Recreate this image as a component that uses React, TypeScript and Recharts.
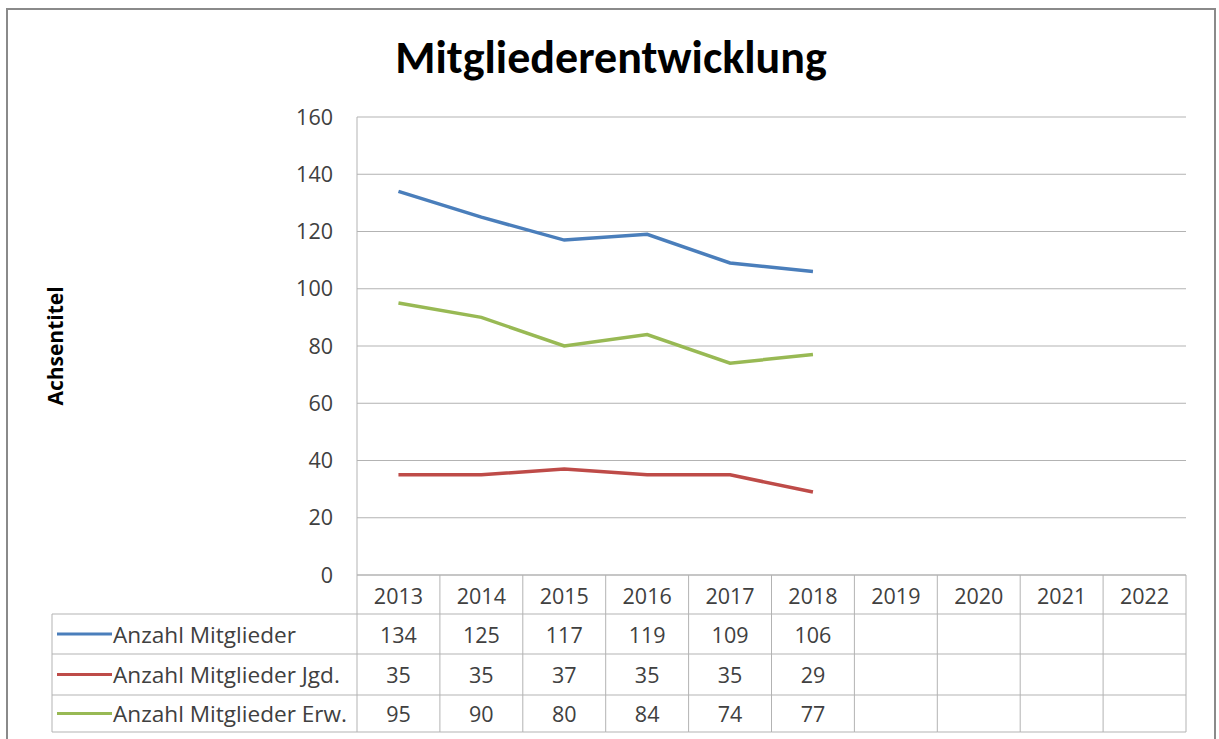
import { LineChart, Line, XAxis, YAxis, CartesianGrid } from "recharts";

const years = ["2013", "2014", "2015", "2016", "2017", "2018", "2019", "2020", "2021", "2022"];
const mitglieder = [134, 125, 117, 119, 109, 106, null, null, null, null];
const jugend = [35, 35, 37, 35, 35, 29, null, null, null, null];
const erwachsene = [95, 90, 80, 84, 74, 77, null, null, null, null];
const yTicks = [0, 20, 40, 60, 80, 100, 120, 140, 160];

const series = [
  { key: "mitglieder", name: "Anzahl Mitglieder", color: "#4A7EBB", values: mitglieder },
  { key: "jugend", name: "Anzahl Mitglieder Jgd.", color: "#BE4B48", values: jugend },
  { key: "erwachsene", name: "Anzahl Mitglieder Erw.", color: "#98B954", values: erwachsene },
];

const data = years.map((year, i) => ({
  year,
  mitglieder: mitglieder[i],
  jugend: jugend[i],
  erwachsene: erwachsene[i],
}));

// layout
const W = 1219;
const H = 739;
const PLOT_LEFT = 357;
const PLOT_RIGHT = 1186;
const PLOT_TOP = 117;
const PLOT_BOTTOM = 575;
const COL_W = (PLOT_RIGHT - PLOT_LEFT) / years.length;
const TABLE_LEFT = 52;
const ROW_LINES = [614, 654, 695, 732];
const FONT = "'Open Sans', sans-serif";
const TITLE_FONT = "Carlito, Calibri, Lato, sans-serif";
const TEXT = "#404040";
const GRID = "#b3b3b3";
const FS = 21.5;

// one table column per category, drawn at the x axis tick position
function TableColumn(props: any) {
  const { x, payload } = props;
  const i = payload.index;
  const left = x - COL_W / 2;
  const right = x + COL_W / 2;
  return (
    <g>
      {i === 0 && (
        <g>
          <line x1={TABLE_LEFT} x2={TABLE_LEFT} y1={ROW_LINES[0]} y2={ROW_LINES[3]} stroke={GRID} />
          {ROW_LINES.map((y) => (
            <line key={y} x1={TABLE_LEFT} x2={left} y1={y} y2={y} stroke={GRID} />
          ))}
          {series.map((s, r) => {
            const cy = (ROW_LINES[r] + ROW_LINES[r + 1]) / 2;
            return (
              <g key={s.key}>
                <line x1={57} x2={112} y1={cy} y2={cy} stroke={s.color} strokeWidth={3} />
                <text x={113} y={cy} dominantBaseline="central" fill={TEXT} fontSize={22.6} fontFamily={FONT}>
                  {s.name}
                </text>
              </g>
            );
          })}
        </g>
      )}
      <line x1={right} x2={right} y1={PLOT_BOTTOM} y2={ROW_LINES[3]} stroke={GRID} />
      {i === 0 && <line x1={left} x2={left} y1={PLOT_BOTTOM} y2={ROW_LINES[3]} stroke={GRID} />}
      {ROW_LINES.map((y) => (
        <line key={y} x1={left} x2={right} y1={y} y2={y} stroke={GRID} />
      ))}
      <text x={x} y={(PLOT_BOTTOM + ROW_LINES[0]) / 2 + 1} textAnchor="middle" dominantBaseline="central" fill={TEXT} fontSize={FS} fontFamily={FONT}>
        {payload.value}
      </text>
      {series.map((s, r) => (
        <text
          key={s.key}
          x={x}
          y={(ROW_LINES[r] + ROW_LINES[r + 1]) / 2}
          textAnchor="middle"
          dominantBaseline="central"
          fill={TEXT}
          fontSize={FS}
          fontFamily={FONT}
        >
          {s.values[i] ?? ""}
        </text>
      ))}
    </g>
  );
}

export default function App() {
  return (
    <div style={{ position: "absolute", left: 0, top: 0, width: W, height: H, background: "#fff", overflow: "hidden" }}>
      {/* outer chart frame */}
      <div
        style={{
          position: "absolute",
          left: 6,
          top: 8,
          width: 1206,
          height: 760,
          border: "2px solid #8a8a8a",
        }}
      />
      <div
        style={{
          position: "absolute",
          left: 0,
          top: 30,
          width: 1222,
          textAlign: "center",
          fontFamily: TITLE_FONT,
          fontWeight: 700,
          fontSize: 46,
          lineHeight: 1.2,
          color: "#000",
        }}
      >
        Mitgliederentwicklung
      </div>
      <div style={{ position: "absolute", left: 0, top: 0 }}>
        <LineChart
          width={W}
          height={H}
          data={data}
          margin={{ top: PLOT_TOP, right: W - PLOT_RIGHT, bottom: 0, left: 0 }}
        >
          <CartesianGrid vertical={false} stroke={GRID} />
          <XAxis
            dataKey="year"
            height={H - PLOT_BOTTOM}
            padding={{ left: COL_W / 2, right: COL_W / 2 }}
            axisLine={{ stroke: GRID }}
            tickLine={false}
            interval={0}
            tick={<TableColumn />}
          />
          <YAxis
            width={PLOT_LEFT}
            domain={[0, 160]}
            ticks={yTicks}
            axisLine={{ stroke: GRID }}
            tickLine={false}
            tickSize={0}
            tickMargin={24}
            tick={{ fill: TEXT, fontSize: FS, fontFamily: FONT }}
            label={{
              value: "Achsentitel",
              angle: -90,
              position: "insideLeft",
              offset: 56,
              style: { textAnchor: "middle", fill: "#000", fontWeight: 700, fontSize: 21, fontFamily: FONT },
            }}
          />
          {series.map((s) => (
            <Line
              key={s.key}
              type="linear"
              dataKey={s.key}
              name={s.name}
              stroke={s.color}
              strokeWidth={3.5}
              dot={false}
              isAnimationActive={false}
            />
          ))}
        </LineChart>
      </div>
    </div>
  );
}
